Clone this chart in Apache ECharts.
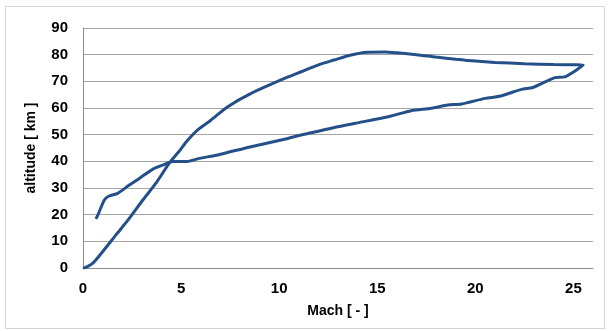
<!DOCTYPE html>
<html>
<head>
<meta charset="utf-8">
<script src="https://cdn.jsdelivr.net/npm/echarts@6/dist/echarts.min.js"></script>
<style>
  html, body { margin: 0; padding: 0; background: #fff; }
  #chart { width: 612px; height: 331px; }
</style>
</head>
<body>
<div id="chart"></div>
<script>
// Flight path: Mach number against altitude, traced as one continuous line.
// Lower branch (left to right), then upper branch (right to left).
const mach = [
  0.66, 0.8, 1.09, 1.33, 1.77, 2.36, 2.87, 3.55, 4.07, 4.58, 5.26, 5.93,
  6.87, 8.57, 10.27, 11.12, 11.63, 12.82, 13.84, 15.71, 16.73, 17.76, 18.6,
  19.3, 20.5, 21.3, 22.35, 22.94, 24.05, 24.56, 25.5,
  24.0, 22.5, 21.0, 20.0, 19.0, 18.0, 17.0, 16.0, 15.4, 14.5, 13.67,
  12.8, 11.97, 11.12, 10.27, 8.57, 7.38, 6.53, 5.85, 5.3, 4.95, 4.4, 3.72,
  3.05, 2.36, 1.68, 1.0, 0.49, 0.15, 0
];
const altitude = [
  18.4, 20.6, 25.5, 27.0, 28.0, 31.1, 33.6, 37.0, 38.6, 39.9, 39.9, 41.1,
  42.4, 45.5, 48.3, 49.9, 50.7, 52.7, 54.2, 57.0, 59.0, 59.9, 61.1,
  61.5, 63.6, 64.5, 67.0, 67.7, 71.4, 71.7, 76.1,
  76.3, 76.6, 77.1, 77.6, 78.3, 79.1, 80.0, 80.7, 81.0, 80.9, 79.9,
  78.0, 76.1, 73.6, 71.1, 65.5, 60.5, 55.5, 51.8, 47.6, 44.2, 39.3, 31.8,
  25.5, 18.6, 12.4, 6.1, 1.7, 0.25, 0
];
const machTicks = { min: 0, max: 26, step: 5 };
const altTicks = { min: 0, max: 90, step: 10 };

const points = mach.map((m, i) => [m, altitude[i]]);

const chart = echarts.init(document.getElementById('chart'), null, { renderer: 'canvas' });
const labelFont = { fontFamily: 'Liberation Sans, Arial, sans-serif', fontWeight: 'bold', fontSize: 15, color: '#000' };

chart.setOption({
  animation: false,
  backgroundColor: '#fff',
  graphic: [{
    type: 'rect',
    shape: { x: 5.5, y: 6.5, width: 599, height: 322 },
    style: { fill: 'none', stroke: '#d4d4d4', lineWidth: 1 },
    silent: true
  }],
  grid: { left: 83, top: 28, right: 19, bottom: 63, containLabel: false },
  xAxis: {
    type: 'value',
    min: machTicks.min, max: machTicks.max, interval: machTicks.step,
    name: 'Mach [ - ]',
    nameLocation: 'middle',
    nameGap: 36,
    nameTextStyle: { fontFamily: 'Liberation Sans, Arial, sans-serif', fontWeight: 'bold', fontSize: 14, color: '#000' },
    axisLine: { show: true, onZero: false, lineStyle: { color: '#8c8c8c', width: 1 } },
    axisTick: { show: false },
    axisLabel: Object.assign({ margin: 13, showMaxLabel: false }, labelFont),
    splitLine: { show: false }
  },
  yAxis: {
    type: 'value',
    min: altTicks.min, max: altTicks.max, interval: altTicks.step,
    name: 'altitude [ km ]',
    nameLocation: 'middle',
    nameGap: 45,
    nameRotate: 90,
    nameTextStyle: { fontFamily: 'Liberation Sans, Arial, sans-serif', fontWeight: 'bold', fontSize: 14, color: '#000' },
    axisLine: { show: true, lineStyle: { color: '#8c8c8c', width: 1 } },
    axisTick: { show: false },
    axisLabel: Object.assign({ margin: 15 }, labelFont),
    splitLine: { show: true, lineStyle: { color: '#a6a6a6', width: 1 } }
  },
  series: [{
    type: 'line',
    data: points,
    showSymbol: false,
    smooth: 0.25,
    lineStyle: { color: '#24508a', width: 3 },
    itemStyle: { color: '#24508a' }
  }]
});
</script>
</body>
</html>
